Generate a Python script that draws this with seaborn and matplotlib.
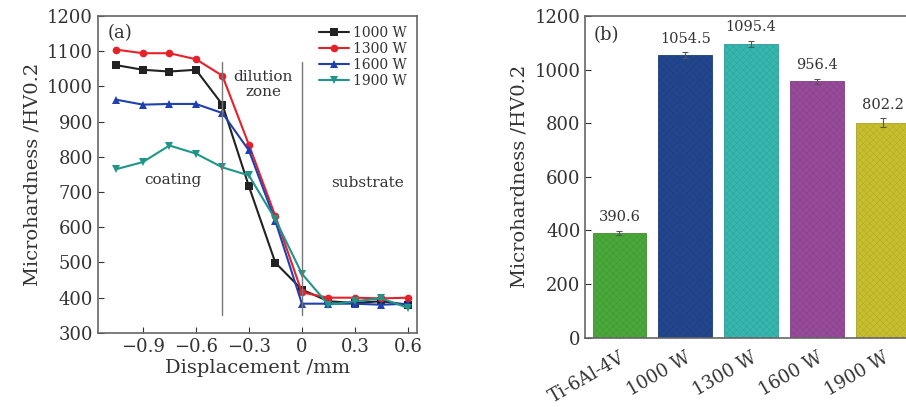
import numpy as np
import pandas as pd
import seaborn as sns
import matplotlib.pyplot as plt
import matplotlib.colors as mcolors

# Panel (a): microhardness profile across the coating
displacement = [-1.05, -0.9, -0.75, -0.6, -0.45, -0.3, -0.15, 0.0, 0.15, 0.3, 0.45, 0.6]
hv_1000 = [1060, 1047, 1042, 1047, 948, 716, 499, 423, 390, 385, 390, 380]
hv_1300 = [1104, 1094, 1094, 1077, 1030, 834, 631, 415, 400, 400, 398, 400]
hv_1600 = [962, 948, 950, 950, 924, 818, 617, 383, 383, 383, 380, 383]
hv_1900 = [765, 785, 832, 809, 770, 747, 622, 468, 380, 390, 398, 371]
powers = ['1000 W', '1300 W', '1600 W', '1900 W']

# Panel (b): mean microhardness
samples = ['Ti-6Al-4V', '1000 W', '1300 W', '1600 W', '1900 W']
mean_hv = [390.6, 1054.5, 1095.4, 956.4, 802.2]
err_hv = [8, 10, 12, 9, 16]

line_colors = ['#222222', '#e8202a', '#2040b0', '#20968a']
bar_colors = ['#4aa83a', '#22468e', '#36b6ae', '#964a98', '#c8bf2e']

sns.set_style('ticks')
plt.rcParams['font.family'] = ['DejaVu Serif']
plt.rcParams['hatch.linewidth'] = 0.25
txt = '#333333'

profile = pd.DataFrame({
    'Displacement': displacement * 4,
    'HV': hv_1000 + hv_1300 + hv_1600 + hv_1900,
    'Power': np.repeat(powers, len(displacement)),
})

fig = plt.figure(figsize=(9.06, 4.07), dpi=100)
ax1 = fig.add_axes([0.108, 0.182, 0.352, 0.779])
ax2 = fig.add_axes([0.646, 0.170, 0.366, 0.791])

sns.lineplot(data=profile, x='Displacement', y='HV', hue='Power', style='Power',
             palette=line_colors, markers=['s', 'o', '^', 'v'], dashes=False,
             markersize=5.5, markeredgewidth=0, linewidth=1.5, ax=ax1)
ax1.axvline(-0.45, ymin=(350 - 300) / 900, ymax=(1070 - 300) / 900, color='#777777', lw=1)
ax1.axvline(0.0, ymin=(350 - 300) / 900, ymax=(1070 - 300) / 900, color='#777777', lw=1)
ax1.set_xlim(-1.155, 0.65)
ax1.set_ylim(300, 1200)
ax1.set_xticks([-0.9, -0.6, -0.3, 0, 0.3, 0.6])
ax1.set_xticklabels(['\u22120.9', '\u22120.6', '\u22120.3', '0', '0.3', '0.6'])
ax1.set_yticks(range(300, 1201, 100))
ax1.set_xlabel('Displacement /mm', fontsize=14, color=txt, labelpad=2)
ax1.set_ylabel('Microhardness /HV0.2', fontsize=14, color=txt, labelpad=4)
ax1.text(-1.1, 1150, '(a)', fontsize=13, color=txt, va='center')
ax1.text(-0.22, 1005, 'dilution\nzone', fontsize=11, color=txt, ha='center', va='center',
         linespacing=1.1)
ax1.text(-0.73, 735, 'coating', fontsize=11, color=txt, ha='center', va='center')
ax1.text(0.37, 725, 'substrate', fontsize=11, color=txt, ha='center', va='center')
leg = ax1.legend(loc='upper right', frameon=False, fontsize=10, handlelength=2.2,
                 labelspacing=0.15, borderaxespad=0.3, handletextpad=0.3)
for t in leg.get_texts():
    t.set_color(txt)

sns.barplot(x=samples, y=mean_hv, hue=samples, palette=bar_colors, legend=False,
            width=0.82, linewidth=0.6, saturation=1, ax=ax2)
for p, c in zip(ax2.patches, bar_colors):
    r, g, b = mcolors.to_rgb(c)
    p.set_edgecolor((r * 0.85, g * 0.85, b * 0.85))
    p.set_hatch('xxxxx')
ax2.errorbar(range(len(samples)), mean_hv, yerr=err_hv, fmt='none',
             ecolor='#555555', elinewidth=0.8, capsize=2, capthick=0.8)
for i, v in enumerate(mean_hv):
    ax2.text(i, v + err_hv[i] + 25, f'{v:.1f}', ha='center', va='bottom',
             fontsize=10.5, color=txt)
ax2.set_xlim(-0.52, 4.52)
ax2.set_ylim(0, 1200)
ax2.set_yticks(range(0, 1201, 200))
ax2.set_ylabel('Microhardness /HV0.2', fontsize=14, color=txt, labelpad=4)
ax2.text(-0.4, 1130, '(b)', fontsize=13, color=txt, va='center')
plt.setp(ax2.get_xticklabels(), rotation=30, ha='right', rotation_mode='anchor')
ax2.tick_params(axis='x', length=0, pad=8)

for ax in (ax1, ax2):
    ax.tick_params(direction='in', labelsize=13, colors=txt, length=4, width=0.8)
    for s in ax.spines.values():
        s.set_visible(True)
        s.set_color('#666666')
        s.set_linewidth(1.2)

fig.savefig('out.png', dpi=100)
